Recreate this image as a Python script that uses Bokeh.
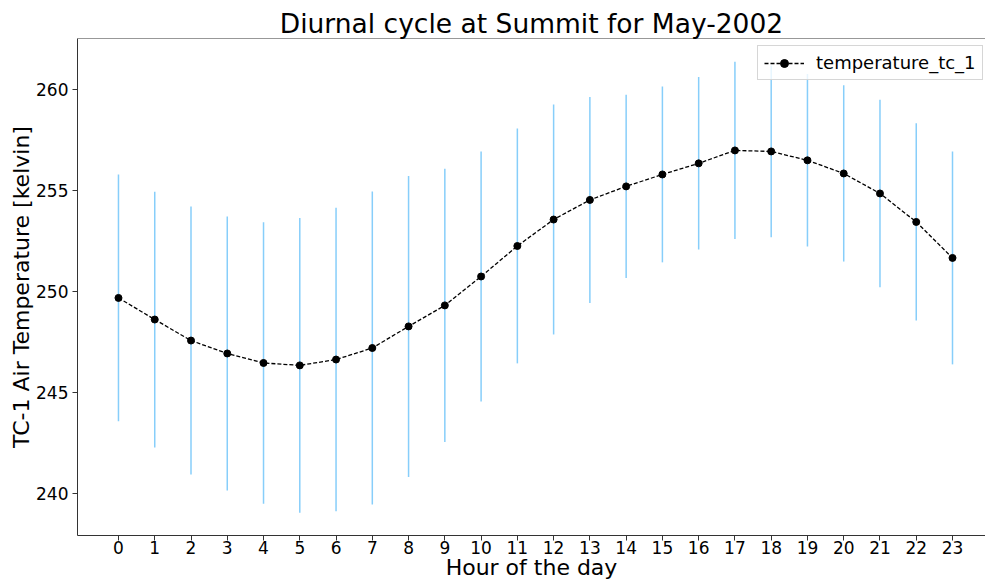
from bokeh.plotting import figure
from bokeh.models import ColumnDataSource, FixedTicker, Range1d, Legend, LegendItem, Span
from bokeh.embed import file_html
from bokeh.resources import INLINE

# ---- data ----
hours = list(range(24))
mean_temp = [249.68, 248.61, 247.57, 246.93, 246.46, 246.34, 246.63, 247.20,
             248.27, 249.31, 250.74, 252.25, 253.56, 254.53, 255.20, 255.79,
             256.34, 256.98, 256.93, 256.49, 255.84, 254.85, 253.44, 251.66]
std_temp = [6.11, 6.33, 6.63, 6.78, 6.97, 7.29, 7.51, 7.75,
            7.45, 6.76, 6.19, 5.81, 5.69, 5.10, 4.54, 4.35,
            4.27, 4.39, 4.25, 4.27, 4.36, 4.64, 4.88, 5.27]
y_ticks = [240, 245, 250, 255, 260]
x_ticks = hours
series_name = "temperature_tc_1"
title_text = "Diurnal cycle at Summit for May-2002"
x_label = "Hour of the day"
y_label = "TC-1 Air Temperature [kelvin]"
x_lim = (-1.13, 23.91)
y_lim = (237.92, 262.52)

lower = [m - s for m, s in zip(mean_temp, std_temp)]
upper = [m + s for m, s in zip(mean_temp, std_temp)]
src = ColumnDataSource(dict(x=hours, y=mean_temp, lo=lower, hi=upper))

FONT = "DejaVu Sans"

p = figure(width=985, height=582, output_backend="svg", toolbar_location=None,
           x_range=Range1d(*x_lim), y_range=Range1d(*y_lim),
           min_border_left=77, min_border_right=0, min_border_top=38, min_border_bottom=47)
p.title.text = title_text
p.title.text_font = FONT
p.title.text_font_size = "26.5px"
p.title.text_font_style = "normal"
p.title.text_color = "#000000"
p.title.align = "center"
p.title.standoff = -1

p.xgrid.visible = False
p.ygrid.visible = False
p.outline_line_color = None
p.background_fill_color = "white"
p.border_fill_color = "white"

# top spine
p.add_layout(Span(location=y_lim[1], dimension="width", line_color="#333333", line_width=1))

for ax in (p.xaxis[0], p.yaxis[0]):
    ax.axis_line_color = "#333333"
    ax.axis_line_width = 1
    ax.major_tick_line_color = "#333333"
    ax.major_tick_out = 5
    ax.major_tick_in = 0
    ax.minor_tick_line_color = None
    ax.major_label_text_font = FONT
    ax.major_label_text_font_size = "17px"
    ax.major_label_text_color = "#000000"
    ax.axis_label_text_font = FONT
    ax.axis_label_text_font_size = "22px"
    ax.axis_label_text_font_style = "normal"
    ax.axis_label_text_color = "#000000"

p.xaxis.ticker = FixedTicker(ticks=x_ticks)
p.yaxis.ticker = FixedTicker(ticks=y_ticks)
p.xaxis.axis_label = x_label
p.yaxis.axis_label = y_label
p.xaxis.major_label_standoff = 0
p.xaxis.axis_label_standoff = -2
p.yaxis.major_label_standoff = 4
p.yaxis.axis_label_standoff = -1

err = p.segment(x0="x", y0="lo", x1="x", y1="hi", source=src,
                line_color="#87CEFA", line_width=1.5)
ln = p.line("x", "y", source=src, line_color="black", line_width=1.3, line_dash="4 2")
pts = p.scatter("x", "y", source=src, size=7, fill_color="black", line_color="black")

legend = Legend(items=[LegendItem(label=series_name, renderers=[ln, pts])],
                location=(680, 455))
legend.label_text_font = FONT
legend.label_text_font_size = "18px"
legend.label_text_color = "#000000"
legend.border_line_color = "#cccccc"
legend.border_line_alpha = 0.8
legend.background_fill_alpha = 0.8
legend.padding = 6
legend.spacing = 0
legend.margin = 0
legend.glyph_width = 40
legend.glyph_height = 20
legend.label_height = 20
legend.label_standoff = 12
p.add_layout(legend, "center")

open("out.html", "w").write(file_html(p, INLINE))
